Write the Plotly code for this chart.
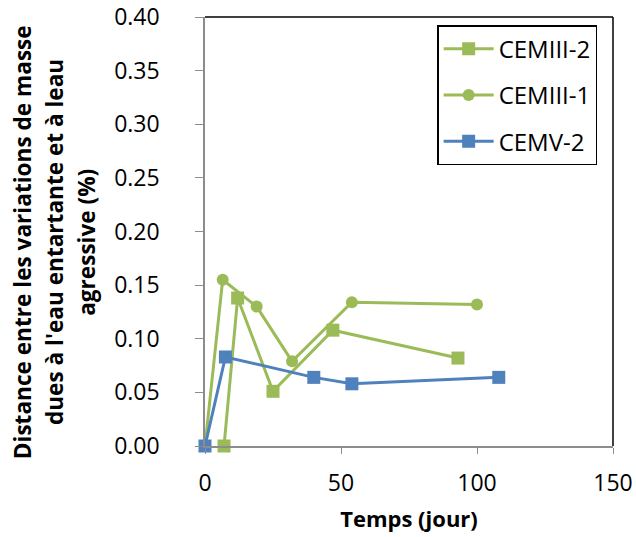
import plotly.graph_objects as go

cem3_2_x = [7, 12, 25, 47, 93]
cem3_2_y = [0.0, 0.138, 0.051, 0.108, 0.082]
cem3_1_x = [0, 6.5, 19, 32, 54, 100]
cem3_1_y = [0.0, 0.155, 0.130, 0.079, 0.134, 0.132]
cemv_2_x = [0, 7.5, 40, 54, 108]
cemv_2_y = [0.0, 0.083, 0.064, 0.058, 0.064]

y_title_lines = ["Distance entre les variations de masse",
                 "dues à l'eau entartante et à leau",
                 "agressive (%)"]
x_title = "Temps (jour)"

green = "#9BBB59"
blue = "#4F81BD"

fig = go.Figure()
fig.add_trace(go.Scatter(x=cem3_2_x, y=cem3_2_y, name="CEMIII-2", mode="lines+markers",
                         legendgroup="a",
                         line=dict(color=green, width=3),
                         marker=dict(symbol="square", size=13, color=green), cliponaxis=False))
fig.add_trace(go.Scatter(x=cem3_1_x, y=cem3_1_y, name="CEMIII-1", mode="lines+markers",
                         legendgroup="b",
                         line=dict(color=green, width=3),
                         marker=dict(symbol="circle", size=12, color=green), cliponaxis=False))
fig.add_trace(go.Scatter(x=cemv_2_x, y=cemv_2_y, name="CEMV-2", mode="lines+markers",
                         legendgroup="c",
                         line=dict(color=blue, width=3),
                         marker=dict(symbol="square", size=13, color=blue), cliponaxis=False))

font = "Open Sans, Liberation Sans, sans-serif"

annots = []
for xp, txt in zip([-0.448, -0.370, -0.292], y_title_lines):
    annots.append(dict(text="<b>" + txt + "</b>", xref="paper", yref="paper",
                       x=xp, y=0.4755, xanchor="center", yanchor="middle",
                       textangle=-90, showarrow=False, font=dict(size=22.6, family=font)))

fig.update_layout(
    width=636, height=537,
    margin=dict(l=205, r=23, t=17, b=91),
    paper_bgcolor="white", plot_bgcolor="white",
    font=dict(family=font, color="#000000"),
    showlegend=True,
    legend=dict(x=0.569, y=0.981, xanchor="left", yanchor="top",
                bordercolor="#000000", borderwidth=1.5, bgcolor="white",
                font=dict(size=24, family=font), tracegroupgap=12,
                traceorder="grouped", itemwidth=50),
    xaxis=dict(range=[0, 150], tickvals=[0, 50, 100, 150], showgrid=False, zeroline=False,
               showline=True, linecolor="#8c8c8c", linewidth=1.5, automargin=False,
               ticks="outside", ticklen=6, tickcolor="#8c8c8c", ticklabeloverflow="allow",
               tickfont=dict(size=23), ticklabelstandoff=10,
               title=dict(text="<b>" + x_title + "</b>", font=dict(size=22), standoff=14)),
    yaxis=dict(range=[0, 0.40], dtick=0.05, tickformat=".2f", showgrid=False, zeroline=False,
               showline=True, linecolor="#8c8c8c", linewidth=1.5, automargin=False,
               ticks="outside", ticklen=8, tickcolor="#8c8c8c", ticklabeloverflow="allow",
               tickfont=dict(size=23), ticklabelstandoff=31),
    annotations=annots,
    shapes=[
        dict(type="line", xref="paper", yref="paper", x0=0, x1=1, y0=1, y1=1,
             line=dict(color="#000000", width=1.5)),
        dict(type="line", xref="paper", yref="paper", x0=1, x1=1, y0=0, y1=1,
             line=dict(color="#000000", width=1.5)),
    ],
)

fig.write_html("out.html", config={"displayModeBar": False},
               post_script="document.body.style.margin='0';document.body.style.overflow='hidden';")
